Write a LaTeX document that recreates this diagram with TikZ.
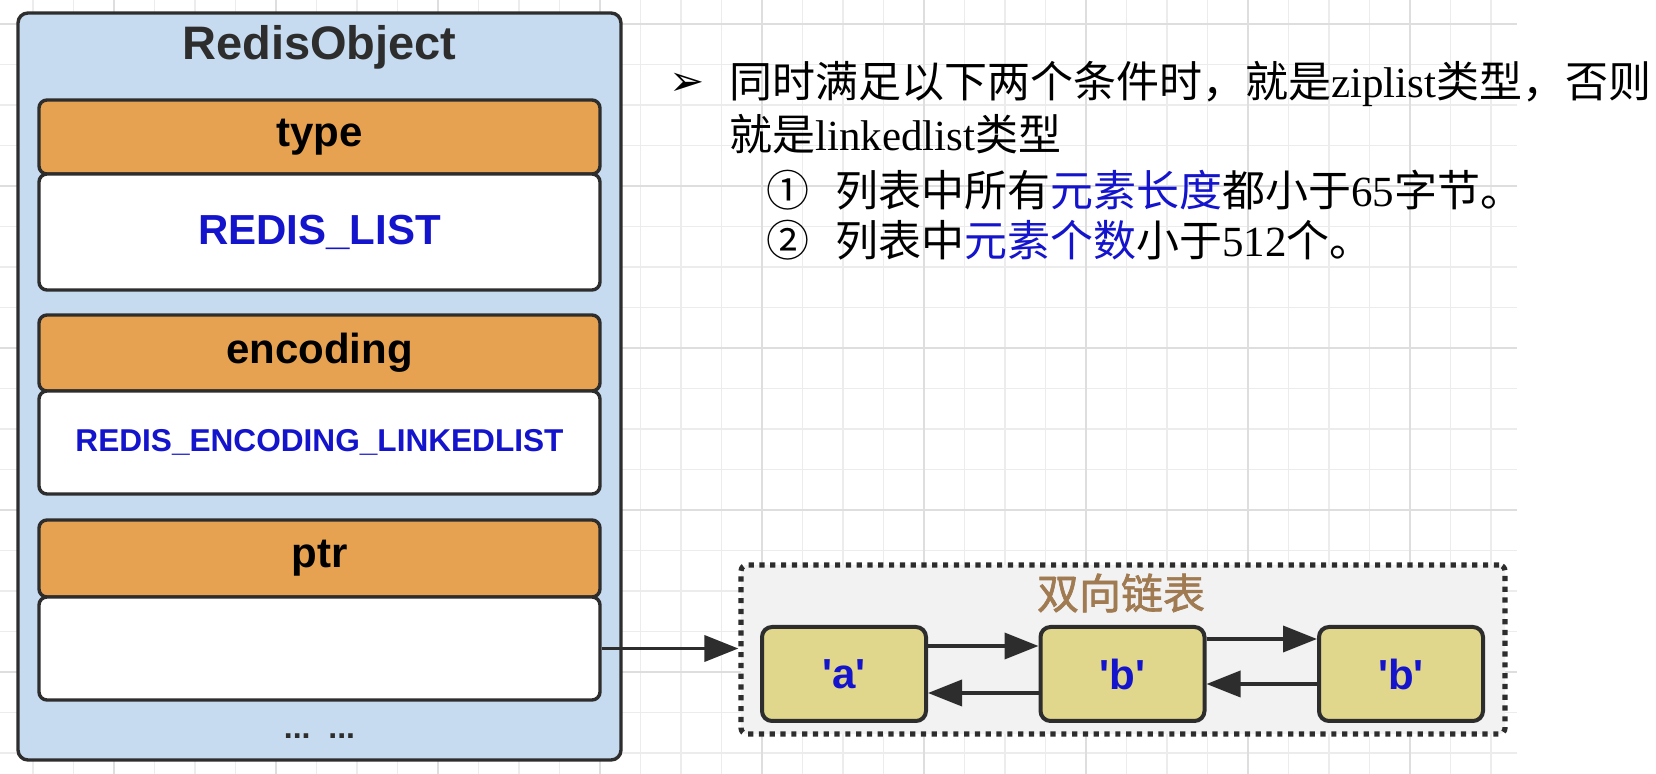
\documentclass[tikz,border=0pt]{standalone}
\usepackage{fontspec}
\setmainfont{Liberation Serif}
\setsansfont{Liberation Sans}
\newfontfamily\cjk{Noto Sans CJK SC}
\newfontfamily\cjkbold[FakeBold=1.5]{Noto Sans CJK SC}
\newfontfamily\symfont{DejaVu Sans}
\usetikzlibrary{calc, arrows.meta}
\definecolor{objblue}{RGB}{198,218,240}
\definecolor{fieldorange}{RGB}{230,162,80}
\definecolor{valblue}{RGB}{20,20,205}
\definecolor{elemyellow}{RGB}{224,214,140}
\definecolor{listgray}{RGB}{242,242,242}
\definecolor{titlebrown}{RGB}{160,122,80}
\definecolor{edgegray}{RGB}{45,45,45}
\definecolor{gridminor}{RGB}{236,236,236}
\definecolor{gridmajor}{RGB}{222,222,222}

\begin{document}
\begin{tikzpicture}[x=0.5pt, y=-0.5pt,
  objbox/.style={draw=edgegray, line width=1.7pt, fill=objblue, rounded corners=5pt},
  field/.style={draw=edgegray, line width=1.7pt, fill=fieldorange, rounded corners=4pt,
    minimum width=280.5pt, font=\sffamily\bfseries\fontsize{21}{24}\selectfont},
  value/.style={field, fill=white, text=valblue},
  elem/.style={draw=edgegray, line width=2pt, fill=elemyellow, rounded corners=5pt,
    minimum width=82pt, minimum height=47pt, text=valblue,
    font=\sffamily\bfseries\fontsize{21}{24}\selectfont},
  listbox/.style={draw=edgegray, line width=2.6pt, dash pattern=on 2.6pt off 2.8pt,
    fill=listgray, rounded corners=3pt},
  link/.style={draw=edgegray, line width=1.8pt, -{Triangle[length=17pt,width=13pt]}},
  note/.style={anchor=west, inner sep=0pt, font=\fontsize{21.5}{25}\selectfont}]
  \useasboundingbox (0,0) rectangle (1656,774);
  % background grid, every 4th line a bit darker
  \foreach \k in {0,...,36}
    \draw[gridminor, line width=0.6pt] ({33+40.5*\k},0) -- ({33+40.5*\k},774);
  \foreach \k in {0,...,18}
    \draw[gridminor, line width=0.6pt] (0,{24+40.5*\k}) -- (1517,{24+40.5*\k});
  \foreach \k in {0,...,8}
    \draw[gridmajor, line width=0.8pt] ({114+162*\k},0) -- ({114+162*\k},774);
  \foreach \k in {0,...,4}
    \draw[gridmajor, line width=0.8pt] (0,{24+162*\k}) -- (1517,{24+162*\k});

  % RedisObject
  \node[objbox, minimum width=301.5pt, minimum height=373.5pt] (obj) at (319.5,386.5) {};
  \node[font=\sffamily\bfseries\fontsize{23.5}{26}\selectfont, text=edgegray] (objtitle) at (319.5,47) {RedisObject};
  \node[field, minimum height=37pt] (type) at (319.5,137) {type};
  \node[value, minimum height=58pt] (typeval) at (319.5,232) {REDIS\_LIST};
  \node[field, minimum height=38pt] (enc) at (319.5,353) {encoding};
  \node[value, minimum height=51.5pt, font=\sffamily\bfseries\fontsize{15.8}{18}\selectfont] (encval) at (319.5,442.5) {REDIS\_ENCODING\_LINKEDLIST};
  \node[field, minimum height=38.5pt] (ptr) at (319.5,558.5) {ptr};
  \node[value, minimum height=51.5pt] (ptrval) at (319.5,648.5) {};
  \node[font=\sffamily\bfseries\fontsize{16}{18}\selectfont, text=edgegray] (more) at (319.5,736) {...\ \ ...};

  % linked list
  \node[listbox, minimum width=382pt, minimum height=84.5pt] (list) at (1123,649.5) {};
  \node[font=\cjkbold\fontsize{21}{24}\selectfont, text=titlebrown] (listtitle) at (1121,593) {双向链表};
  \node[elem] (elemA) at (844,674) {\textquotesingle a\textquotesingle};
  \node[elem] (elemB) at (1122.5,674) {\textquotesingle b\textquotesingle};
  \node[elem] (elemC) at (1401,674) {\textquotesingle b\textquotesingle};
  \draw[link] ($(elemA.east)+(0,-28)$) -- ($(elemB.west)+(0,-28)$);
  \draw[link] ($(elemB.west)+(0,19)$) -- ($(elemA.east)+(0,19)$);
  \draw[link] ($(elemB.east)+(0,-35)$) -- ($(elemC.west)+(0,-35)$);
  \draw[link] ($(elemC.west)+(0,10)$) -- ($(elemB.east)+(0,10)$);
  \draw[link] (ptrval.east) -- (ptrval.east -| list.west);

  % conditions
  \node[note, anchor=center, font=\symfont\fontsize{21}{24}\selectfont] (bullet) at (687,84) {➢};
  \node[note] (cond) at (729,84) {\cjk 同时满足以下两个条件时，就是{\rmfamily ziplist}类型，否则};
  \node[note] (cond2) at (729,134) {\cjk 就是{\rmfamily linkedlist}类型};
  \node[note] (rule1) at (766,190) {\cjk ①\hspace{0.6em}列表中所有\textcolor{valblue}{元素长度}都小于{\rmfamily 65}字节。};
  \node[note] (rule2) at (766,240) {\cjk ②\hspace{0.6em}列表中\textcolor{valblue}{元素个数}小于{\rmfamily 512}个。};
\end{tikzpicture}
\end{document}
